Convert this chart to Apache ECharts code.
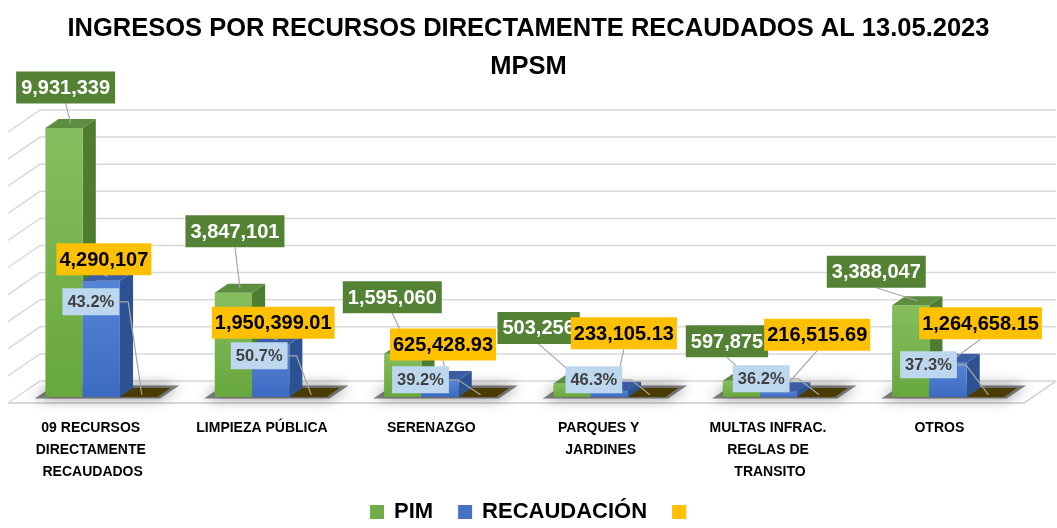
<!DOCTYPE html>
<html><head><meta charset="utf-8">
<script src="https://cdn.jsdelivr.net/npm/echarts@6/dist/echarts.min.js"></script>
<style>html,body{margin:0;padding:0;background:#fff}#c{width:1057px;height:528px}</style>
</head><body><div id="c"></div>
<script>
// ---------- DATA ----------
const categories = ['09 RECURSOS DIRECTAMENTE RECAUDADOS', 'LIMPIEZA PÚBLICA', 'SERENAZGO', 'PARQUES Y JARDINES', 'MULTAS INFRAC. REGLAS DE TRANSITO', 'OTROS'];
const pim = [9931339, 3847101, 1595060, 503256, 597875, 3388047];
const recaudacion = [4290107, 1950399.01, 625428.93, 233105.13, 216515.69, 1264658.15];
const avance = [0.432, 0.507, 0.392, 0.463, 0.362, 0.373];
const gridTicks = [0, 1000000, 2000000, 3000000, 4000000, 5000000, 6000000, 7000000, 8000000, 9000000, 10000000];

// ---------- LAYOUT (label box offsets from bar anchor, px) ----------
const pimLabelOffset = [[-5, -36], [-5, -57], [-17, -52], [-40, -51], [-21, -35], [-41, -29]];
const recLabelOffset = [[-4, -17], [-4, -17], [-3.5, -31], [8, -53], [32, -52], [26, -35]];
const pctLabelOffset = [[-51, -93], [-52, -39], [-60, -15], [-56, -15], [-58, -16], [-60, -30]];

const FONT = '"Liberation Sans", Arial, sans-serif';
const DEPTH = [32, -22];
const BAR_FRONT = 0.27, BAR_BACK = 0.68, BAR_RATIO = 0.22;

const fmtNum = v => Number.isInteger(v)
  ? v.toLocaleString('en-US')
  : v.toLocaleString('en-US', {minimumFractionDigits: 2, maximumFractionDigits: 2});
const pimText = pim.map(fmtNum);
const recText = recaudacion.map(fmtNum);
const pctText = avance.map(v => (v * 100).toFixed(1) + '%');

const mctx = document.createElement('canvas').getContext('2d');
function measure(t, font) { mctx.font = font; return mctx.measureText(t).width; }

function geom(api, i, v, j) {
  const base = api.coord([i, 0]);
  const top = api.coord([i, v]);
  const band = api.size([1, 0])[0];
  const w = band * BAR_RATIO;
  const fx = DEPTH[0] * BAR_FRONT, fy = DEPTH[1] * BAR_FRONT;
  const dx = DEPTH[0] * (BAR_BACK - BAR_FRONT), dy = DEPTH[1] * (BAR_BACK - BAR_FRONT);
  const x0 = base[0] + fx - 1.5 * w + j * w;
  return {x0, w, yb: base[1] + fy, yt: top[1] + fy, dx, dy};
}

function barSeries(name, values, j, c) {
  return {
    type: 'custom', name, z: 3, silent: true, coordinateSystem: 'cartesian2d',
    itemStyle: {color: c.legend},
    data: values.map((v, i) => [i, v]),
    renderItem(params, api) {
      const g = geom(api, api.value(0), api.value(1), j);
      const {x0, w, yb, yt, dx, dy} = g;
      return {
        type: 'group',
        children: [
          {type: 'polygon', shape: {points: [[x0 + w, yt], [x0 + w + dx, yt + dy], [x0 + w + dx, yb + dy], [x0 + w, yb]]}, style: {fill: c.side}},
          {type: 'rect', shape: {x: x0, y: yt, width: w, height: Math.max(yb - yt, 0)},
            style: {fill: new echarts.graphic.LinearGradient(0, 0, 0, 1, [{offset: 0, color: c.frontTop}, {offset: 1, color: c.frontBot}])}},
          {type: 'polygon', shape: {points: [[x0, yt], [x0 + dx, yt + dy], [x0 + w + dx, yt + dy], [x0 + w, yt]]}, style: {fill: c.top}}
        ]
      };
    }
  };
}

function labelSeries(values, j, texts, offsets, st, z, anchorDepth) {
  return {
    type: 'custom', z, silent: true, coordinateSystem: 'cartesian2d',
    data: values.map((v, i) => [i, v]),
    renderItem(params, api) {
      const i = api.value(0);
      const g = geom(api, i, api.value(1), j);
      const ax = g.x0 + g.w / 2 + g.dx * anchorDepth;
      const ay = g.yt + g.dy * anchorDepth;
      const off = offsets[i];
      const cx = ax + off[0], cy = ay + off[1];
      const bw = measure(texts[i], st.font) + 2 * st.padX, bh = st.h;
      const L = cx - bw / 2, R = cx + bw / 2, T = cy - bh / 2, B = cy + bh / 2;
      let pts;
      if (ax >= L && ax <= R) {
        pts = ay > B ? [[cx, B], [ax, ay]] : [[cx, T], [ax, ay]];
      } else if (ax > R) {
        pts = [[R, cy], [R + 9, cy], [ax, ay]];
      } else {
        pts = [[L, cy], [L - 9, cy], [ax, ay]];
      }
      return {
        type: 'group',
        children: [
          {type: 'polyline', shape: {points: pts}, style: {stroke: '#a6a6a6', lineWidth: 1.2, fill: null}},
          {type: 'rect', shape: {x: L, y: T, width: bw, height: bh}, style: {fill: st.bg}},
          {type: 'text', x: cx, y: cy + 1, style: {text: texts[i], font: st.font, fill: st.color, align: 'center', verticalAlign: 'middle'}}
        ]
      };
    }
  };
}

const gridSeries = {
  type: 'custom', z: 1, silent: true, coordinateSystem: 'cartesian2d',
  data: gridTicks.map(v => [0, v]),
  renderItem(params, api) {
    const v = api.value(1);
    const band = api.size([1, 0])[0];
    const p = api.coord([0, v]);
    const pe = api.coord([categories.length - 1, v]);
    const xl = p[0] - band / 2, xr = pe[0] + band / 2, y = p[1];
    const children = [
      {type: 'polyline', shape: {points: [[xl, y], [xl + DEPTH[0], y + DEPTH[1]], [xr + DEPTH[0], y + DEPTH[1]]]},
        style: {stroke: '#d9d9d9', lineWidth: 1.5, fill: null}}
    ];
    if (v === 0) {
      children.push({type: 'polyline', shape: {points: [[xl, y], [xr, y], [xr + DEPTH[0], y + DEPTH[1]]]},
        style: {stroke: '#d9d9d9', lineWidth: 2, fill: null}});
    }
    return {type: 'group', children};
  }
};

const shadowSeries = {
  type: 'custom', z: 2, silent: true, coordinateSystem: 'cartesian2d',
  data: categories.map((c, i) => [i, 0]),
  renderItem(params, api) {
    const i = api.value(0);
    const p = api.coord([i, 0]);
    const band = api.size([1, 0])[0];
    const a = 0.2, b = 0.8;
    const xl = p[0] - band * 0.38, xr = p[0] + band * 0.36, y = p[1];
    const pts = [[xl + DEPTH[0] * a, y + DEPTH[1] * a], [xr + DEPTH[0] * a, y + DEPTH[1] * a],
      [xr + DEPTH[0] * b, y + DEPTH[1] * b], [xl + DEPTH[0] * b, y + DEPTH[1] * b]];
    return {type: 'polygon', shape: {points: pts},
      style: {fill: 'rgba(50,50,50,0.6)', shadowBlur: 14, shadowColor: 'rgba(0,0,0,0.75)'}};
  }
};

const greenSt = {font: 'bold 20px ' + FONT, bg: '#548235', color: '#ffffff', padX: 5, h: 32};
const yellowSt = {font: 'bold 20px ' + FONT, bg: '#FFC000', color: '#000000', padX: 3, h: 32};
const pctSt = {font: 'bold 16.5px ' + FONT, bg: '#BDD7EE', color: '#404040', padX: 5, h: 27};

const chart = echarts.init(document.getElementById('c'), null, {renderer: 'canvas'});
chart.setOption({
  animation: false,
  backgroundColor: '#ffffff',
  title: {
    text: 'INGRESOS POR RECURSOS DIRECTAMENTE RECAUDADOS AL 13.05.2023\nMPSM',
    left: 'center', top: 5,
    textStyle: {fontFamily: FONT, fontWeight: 'bold', fontSize: 25.5, lineHeight: 38, color: '#000'}
  },
  legend: {
    data: ['PIM', 'RECAUDACIÓN', ' '],
    left: 365, top: 496, itemWidth: 14, itemHeight: 14, itemGap: 25, icon: 'rect',
    textStyle: {fontFamily: FONT, fontWeight: 'bold', fontSize: 22, color: '#000', padding: [0, 0, 0, 5]}
  },
  grid: {left: 8, right: 33, top: 132, bottom: 125},
  xAxis: {
    type: 'category', data: categories,
    axisLine: {show: false}, axisTick: {show: false}, splitLine: {show: false},
    axisLabel: {interval: 0, margin: 14, fontFamily: FONT, fontWeight: 'bold', fontSize: 14, color: '#000',
      lineHeight: 22, width: 140, overflow: 'break'}
  },
  yAxis: {type: 'value', min: 0, max: 10000000, interval: 1000000, show: false, splitLine: {show: false}},
  series: [
    gridSeries,
    shadowSeries,
    barSeries('PIM', pim, 0, {legend: '#70AD47', frontTop: '#86BE5F', frontBot: '#67A73B', side: '#4E7C30', top: '#5D8E40'}),
    barSeries('RECAUDACIÓN', recaudacion, 1, {legend: '#4472C4', frontTop: '#5684D6', frontBot: '#3C6BC2', side: '#2D5294', top: '#3A5DA5'}),
    barSeries(' ', avance, 2, {legend: '#FFC000', frontTop: '#FFC000', frontBot: '#E0A800', side: '#8A6A00', top: '#4A3B00'}),
    labelSeries(pim, 0, pimText, pimLabelOffset, greenSt, 4, 0.5),
    labelSeries(recaudacion, 1, recText, recLabelOffset, yellowSt, 5, 0.5),
    labelSeries(avance, 2, pctText, pctLabelOffset, pctSt, 6, 0.25)
  ]
});
</script></body></html>
